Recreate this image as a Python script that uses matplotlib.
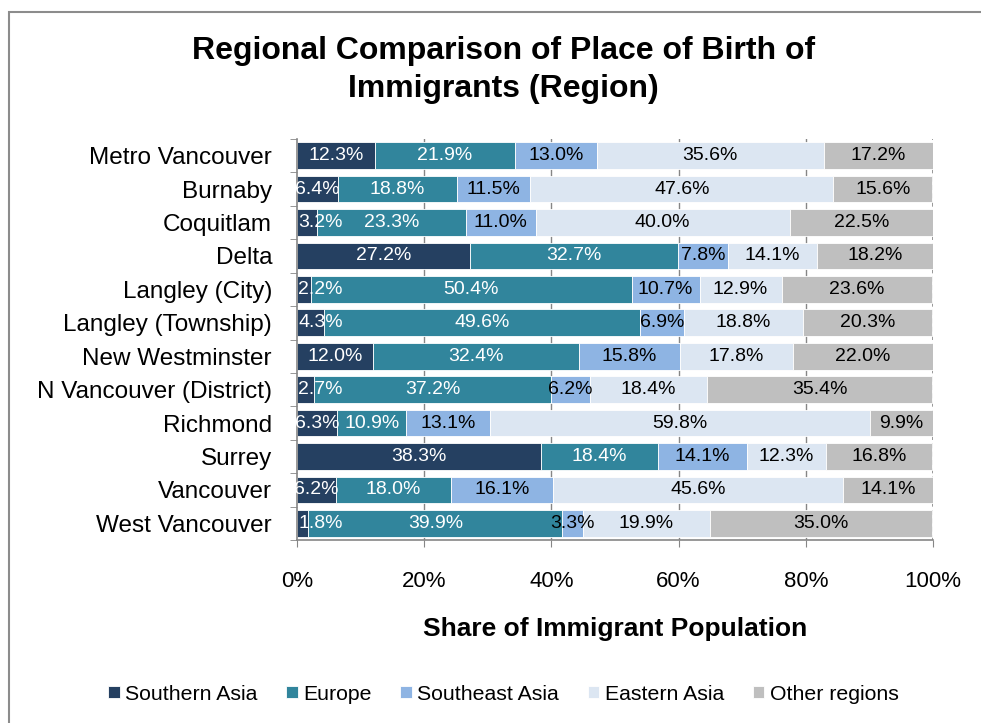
import numpy as np
import matplotlib.pyplot as plt
from matplotlib.patches import Rectangle

plt.rcParams['font.family'] = ['Liberation Sans', 'DejaVu Sans']

places = ["Metro Vancouver", "Burnaby", "Coquitlam", "Delta", "Langley (City)",
          "Langley (Township)", "New Westminster", "N Vancouver (District)",
          "Richmond", "Surrey", "Vancouver", "West Vancouver"]
regions = ["Southern Asia", "Europe", "Southeast Asia", "Eastern Asia", "Other regions"]

southern_asia = [12.3, 6.4, 3.2, 27.2, 2.2, 4.3, 12.0, 2.7, 6.3, 38.3, 6.2, 1.8]
europe = [21.9, 18.8, 23.3, 32.7, 50.4, 49.6, 32.4, 37.2, 10.9, 18.4, 18.0, 39.9]
southeast_asia = [13.0, 11.5, 11.0, 7.8, 10.7, 6.9, 15.8, 6.2, 13.1, 14.1, 16.1, 3.3]
eastern_asia = [35.6, 47.6, 40.0, 14.1, 12.9, 18.8, 17.8, 18.4, 59.8, 12.3, 45.6, 19.9]
other_regions = [17.2, 15.6, 22.5, 18.2, 23.6, 20.3, 22.0, 35.4, 9.9, 16.8, 14.1, 35.0]

series = [southern_asia, europe, southeast_asia, eastern_asia, other_regions]
colors = ["#254061", "#31859c", "#8eb4e3", "#dce6f2", "#bfbfbf"]
text_colors = ["white", "white", "black", "black", "black"]

fig = plt.figure(figsize=(9.81, 7.23), dpi=100)
ax = fig.add_axes([297/981, 1 - 540/723, 636/981, 401/723])

# outer chart border
fig.patches.append(Rectangle((9/981, -0.1), 1.2, 1 - 12/723 + 0.1, transform=fig.transFigure,
                             fill=False, edgecolor="#8c8c8c", linewidth=1.5))

y = np.arange(len(places))
left = np.zeros(len(places))
for vals, col, tcol, name in zip(series, colors, text_colors, regions):
    vals = np.array(vals)
    ax.barh(y, vals, left=left, height=0.8, color=col, edgecolor="white",
            linewidth=0.6, label=name, zorder=2)
    for yi, l, v in zip(y, left, vals):
        if l == 0 and v < 5:
            # excel keeps the label inside the plot area
            ax.text(0.2, yi, f"{v:.1f}%", ha="left", va="center",
                    color=tcol, fontsize=14, zorder=3)
        else:
            ax.text(l + v / 2, yi, f"{v:.1f}%", ha="center", va="center",
                    color=tcol, fontsize=14, zorder=3)
    left += vals

ax.set_xlim(0, 100)
ax.set_ylim(len(places) - 0.5, -0.5)
ax.set_xticks(np.arange(0, 101, 20))
ax.set_xticklabels([f"{t}%" for t in range(0, 101, 20)], fontsize=16)
ax.set_yticks(y)
ax.set_yticklabels(places, fontsize=17.5)
ax.set_yticks(np.arange(-0.5, len(places), 1), minor=True)
ax.tick_params(axis="y", which="major", length=0, pad=18)
ax.tick_params(axis="y", which="minor", length=5, color="#868686", direction="out")
ax.tick_params(axis="x", length=5, color="#868686", pad=17)

for g in [20, 40, 60, 80]:
    ax.axvline(g, color="#868686", linewidth=1, zorder=1)
ax.axvline(100, color="#868686", linewidth=1.2, linestyle=(0, (3, 2)), zorder=1)

for s in ["top", "right"]:
    ax.spines[s].set_visible(False)
for s in ["left", "bottom"]:
    ax.spines[s].set_color("#868686")
    ax.spines[s].set_linewidth(1.2)

ax.set_xlabel("Share of Immigrant Population", fontsize=19, fontweight="bold", labelpad=18)
fig.text(0.513, 1 - 70/723, "Regional Comparison of Place of Birth of\nImmigrants (Region)",
         ha="center", va="center", fontsize=23, fontweight="bold", linespacing=1.38)

ax.legend(loc="center", bbox_to_anchor=(0.513, 1 - 694/723), bbox_transform=fig.transFigure,
          ncol=5, frameon=False, fontsize=15.3, handlelength=0.55, handleheight=0.55,
          handletextpad=0.25, columnspacing=1.35)

fig.savefig("out.png", dpi=100)
